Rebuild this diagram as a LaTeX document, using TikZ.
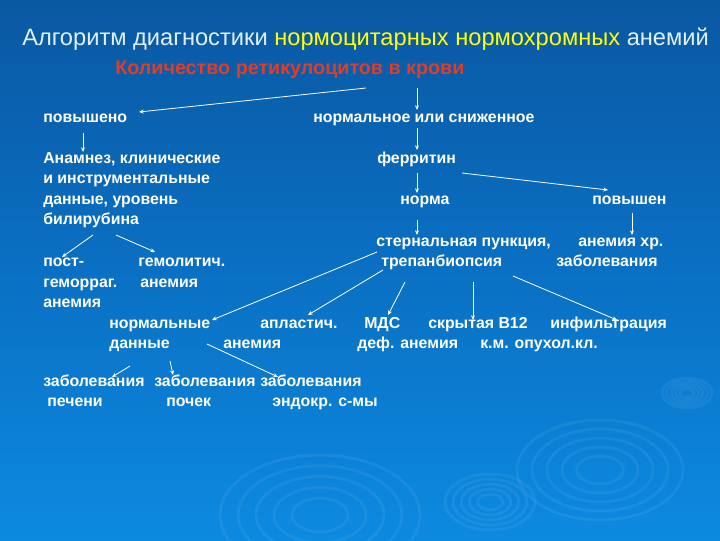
\documentclass[tikz,border=0pt]{standalone}
\usepackage{fontspec}
\setmainfont{Liberation Sans}
\usetikzlibrary{arrows.meta,calc}
\definecolor{bgtop}{RGB}{10,88,162}
\definecolor{bgmid}{RGB}{10,112,195}
\definecolor{bgbot}{RGB}{12,138,224}
\definecolor{titlec}{RGB}{225,240,255}
\definecolor{titley}{RGB}{255,255,0}
\definecolor{subred}{RGB}{225,60,40}
\begin{document}
\begin{tikzpicture}[x=0.75pt,y=-0.75pt,
  txt/.style={anchor=base west,inner sep=0pt,text=white,font=\bfseries\fontsize{11.9}{14}\selectfont},
  arr/.style={draw=white,line width=0.6pt,-{Stealth[length=3.5pt,width=3pt]}},
  ring/.style={draw=white,opacity=0.06,line width=2.2pt}]
\useasboundingbox (0,0) rectangle (720,540);
\shade[top color=bgtop,bottom color=bgbot,middle color=bgmid] (0,0) rectangle (720,540);
% decorative rings
\foreach \s in {1,0.82,0.64,0.46,0.28}{
  \draw[ring] (600,470) ellipse ({83*\s} and {50*\s});
  \draw[ring] (687,393) ellipse ({25*\s} and {15*\s});
  \draw[ring] (490,502) ellipse ({45*\s} and {28*\s});
  \draw[ring] (320,515) ellipse ({100*\s} and {60*\s});
}
% title
\node[anchor=base west,inner sep=0pt,font=\fontsize{17.75}{21}\selectfont] (title) at (22,45)
  {\textcolor{titlec}{Алгоритм диагностики} \textcolor{titley}{нормоцитарных нормохромных} \textcolor{titlec}{анемий}};
\node[anchor=base west,inner sep=0pt,text=subred,font=\bfseries\fontsize{14.8}{17}\selectfont] (sub) at (115,74)
  {Количество ретикулоцитов в крови};
% level 1
\node[txt] (pov) at (43,122) {повышено};
\node[txt] (norm) at (313,122) {нормальное или сниженное};
% left column
\node[txt] (anam1) at (43,163) {Анамнез, клинические};
\node[txt] (anam2) at (43,183) {и инструментальные};
\node[txt] (anam3) at (43,204) {данные, уровень};
\node[txt] (anam4) at (43,224) {билирубина};
% right
\node[txt] (ferr) at (377,163) {ферритин};
\node[txt] (norma) at (400,204) {норма};
\node[txt] (povn) at (592,204) {повышен};
\node[txt] (stern) at (376,246) {стернальная пункция,};
\node[txt] (anhr) at (578,246) {анемия хр.};
\node[txt] (trep) at (381,266) {трепанбиопсия};
\node[txt] (zabhr) at (556,266) {заболевания};
% anemias left
\node[txt] (post1) at (43,266) {пост-};
\node[txt] (post2) at (43,287) {геморраг.};
\node[txt] (post3) at (43,307) {анемия};
\node[txt] (gem1) at (138,266) {гемолитич.};
\node[txt] (gem2) at (140,287) {анемия};
% bottom row
\node[txt] (nd1) at (109,328) {нормальные};
\node[txt] (nd2) at (109,348) {данные};
\node[txt] (apl1) at (260,328) {апластич.};
\node[txt] (apl2) at (223,348) {анемия};
\node[txt] (mds1) at (364,328) {МДС};
\node[txt] (mds2) at (357,348) {деф. анемия};
\node[txt] (b12) at (428,328) {скрытая В12};
\node[txt] (inf1) at (550,328) {инфильтрация};
\node[txt] (inf2) at (480,348) {к.м. опухол.кл.};
% diseases
\node[txt] (z1) at (43,386) {заболевания};
\node[txt] (z2) at (154,386) {заболевания};
\node[txt] (z3) at (260,386) {заболевания};
\node[txt] (p1) at (47,406) {печени};
\node[txt] (p2) at (166,406) {почек};
\node[txt] (p3) at (272,406) {эндокр. с-мы};
% connectors
\draw[arr] ($(sub.base west)+(251,14)$) -- ($(pov.base west)+(96,-10)$);
\draw[arr] ($(sub.base west)+(302,14)$) -- ($(norm.base west)+(104,-12)$);
\draw[arr] ($(pov.base west)+(40,11)$) -- ($(anam1.base west)+(40,-11)$);
\draw[arr] ($(norm.base west)+(104,6)$) -- ($(ferr.base west)+(40,-13)$);
\draw[arr] ($(ferr.base west)+(40,10)$) -- ($(norma.base west)+(17,-11)$);
\draw[arr] ($(ferr.base west)+(85,10)$) -- ($(povn.base west)+(16,-14)$);
\draw[arr] ($(norma.base west)+(17,16)$) -- ($(stern.base west)+(41,-11)$);
\draw[arr] ($(povn.base west)+(40,9)$) -- ($(anhr.base west)+(54,-11)$);
\draw[arr] ($(anam4.base west)+(50,11)$) -- ($(post1.base west)+(19,-9)$);
\draw[arr] ($(anam4.base west)+(73,11)$) -- ($(gem1.base west)+(17,-14)$);
\draw[arr] ($(stern.base west)+(1,6)$) -- ($(nd1.base west)+(103,-8)$);
\draw[arr] ($(trep.base west)+(2,4)$) -- ($(apl1.base west)+(48,-13)$);
\draw[arr] ($(trep.base west)+(24,16)$) -- ($(mds1.base west)+(24,-13)$);
\draw[arr] ($(trep.base west)+(92,16)$) -- ($(b12.base west)+(45,-8)$);
\draw[arr] ($(trep.base west)+(132,10)$) -- ($(inf1.base west)+(67,-8)$);
\draw[arr] ($(nd2.base west)+(21,18)$) -- ($(z1.base west)+(69,-9)$);
\draw[arr] ($(nd2.base west)+(61,13)$) -- ($(z2.base west)+(19,-11)$);
\draw[arr] ($(nd2.base west)+(98,-4)$) -- ($(z3.base west)+(18,-9)$);
\end{tikzpicture}
\end{document}
